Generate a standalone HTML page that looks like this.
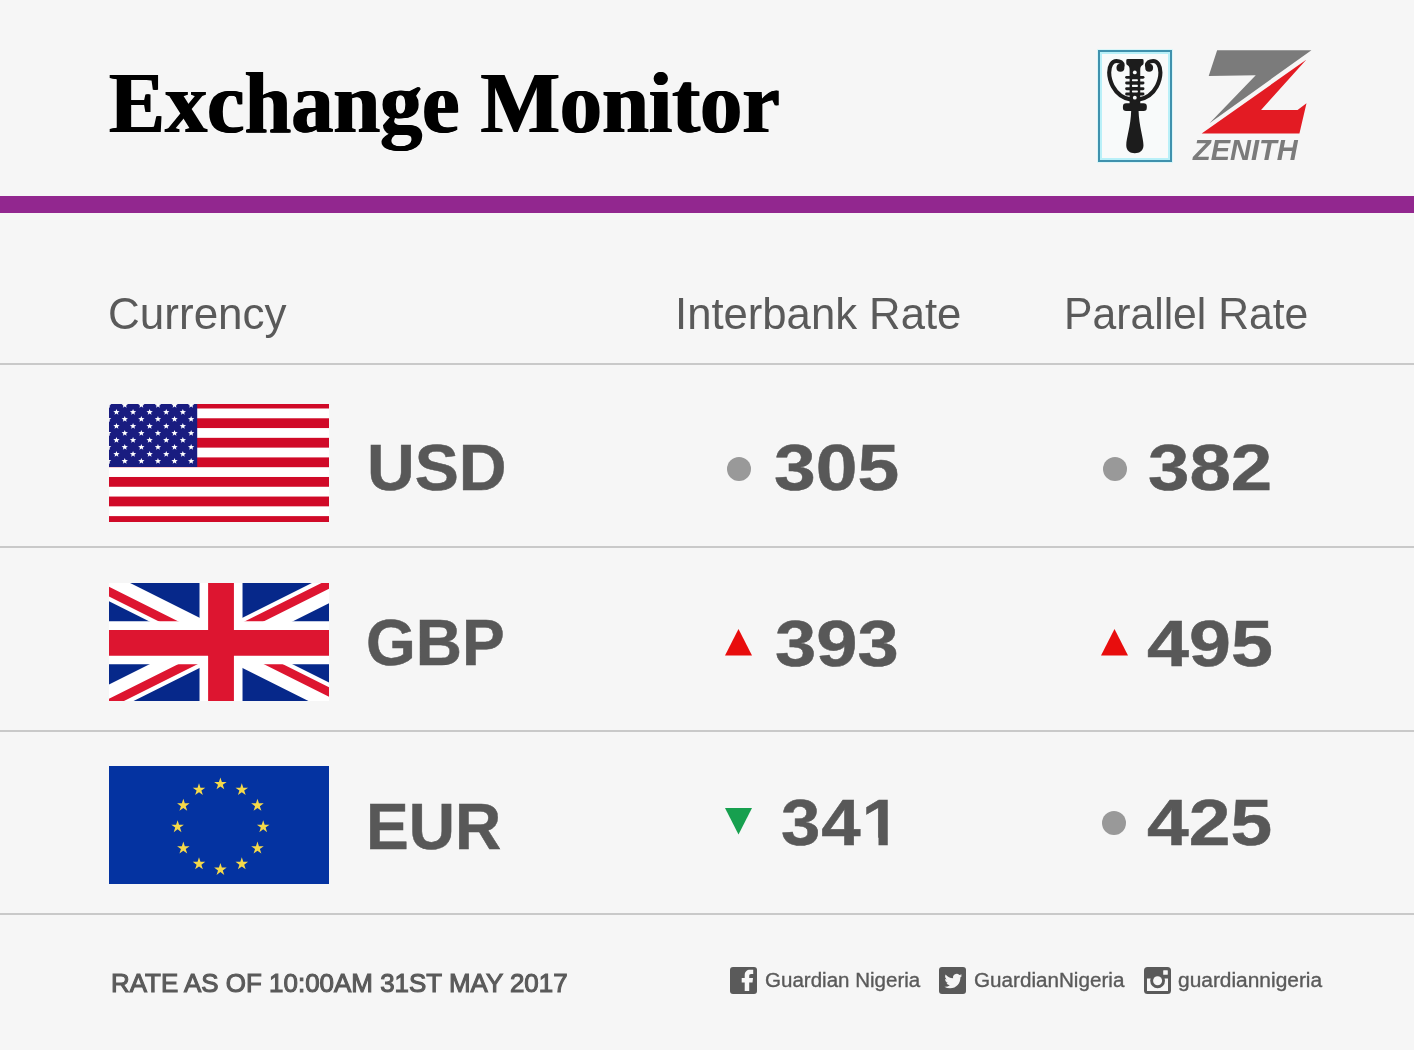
<!DOCTYPE html>
<html lang="en">
<head>
<meta charset="utf-8">
<title>Exchange Monitor</title>
<style>
html,body{margin:0;padding:0;}
body{width:1414px;height:1050px;background:#f6f6f6;position:relative;overflow:hidden;font-family:"Liberation Sans",sans-serif;color:#585858;}
.abs{position:absolute;white-space:nowrap;line-height:1;}
.title{left:109px;top:59px;font-family:"Liberation Serif",serif;font-weight:bold;font-size:87.5px;color:#000;transform-origin:0 0;transform:scaleX(0.9614);letter-spacing:0;text-shadow:0.9px 0 0 #000,-0.9px 0 0 #000;}
.bar{position:absolute;left:0;top:196px;width:1414px;height:17px;background:#92278f;}
.line{position:absolute;left:0;width:1414px;height:2px;background:#c9c9c9;}
.hdr{font-size:44px;color:#5a5a5a;transform-origin:0 0;}
.cur{font-size:64px;font-weight:bold;color:#585858;-webkit-text-stroke:0.5px #585858;transform-origin:0 0;}
.num{font-size:65px;font-weight:bold;color:#585858;-webkit-text-stroke:0.5px #585858;transform-origin:0 0;}
.flag{position:absolute;display:block;overflow:hidden !important;}
.dot{position:absolute;width:24px;height:24px;border-radius:50%;background:#999;}
.foot{font-size:26.5px;font-weight:normal;-webkit-text-stroke:1.1px #5a5a5a;color:#5a5a5a;transform-origin:0 0;}
.soc{font-size:19.5px;color:#5a5a5a;-webkit-text-stroke:0.35px #5a5a5a;transform-origin:0 0;}
svg{position:absolute;overflow:visible;}
</style>
</head>
<body>
<div class="abs title" id="title">Exchange Monitor</div>

<!-- Guardian logo -->
<div style="position:absolute;left:1098px;top:50px;width:70px;height:107.5px;border:2px solid #3f91ad;background:#f8fafa;box-shadow:inset 0 0 0 2px #b9f0f8,0 0 0 1px #d9f6f9;"></div>
<svg id="comb" style="left:1090px;top:40px" width="100" height="130" viewBox="0 0 808 1050">
<g fill="#1c1c1c" stroke="none">
<path d="M293 166 Q293 154 305 154 L421 154 Q433 154 433 166 L433 188 Q433 200 422 204 C410 212 406 224 406 240 L406 520 L320 520 L320 240 C320 224 316 212 304 204 Q293 200 293 188 Z"/>
<rect x="284" y="290" width="156" height="23" rx="11.5"/>
<rect x="284" y="336" width="156" height="23" rx="11.5"/>
<rect x="284" y="382" width="156" height="23" rx="11.5"/>
<rect x="284" y="425" width="156" height="23" rx="11.5"/>
<rect x="266" y="511" width="193" height="62" rx="26"/>
<path d="M333 565 L392 565 C396 700 432 790 432 850 C432 895 400 914 362 914 C324 914 293 895 293 850 C293 790 330 700 333 565 Z"/>
<circle cx="246" cy="224" r="32"/>
<circle cx="478" cy="224" r="32"/>
</g>
<g fill="none" stroke="#1c1c1c" stroke-width="33" stroke-linecap="round">
<path d="M335 483 C270 473 215 432 185 376 C165 336 155 300 155 262 C155 205 180 169 214 169 C244 169 264 184 264 206"/>
<path d="M389 483 C454 473 509 432 539 376 C559 336 569 300 569 262 C569 205 544 169 510 169 C480 169 460 184 460 206"/>
</g>
<g fill="#f8fafa">
<circle cx="362" cy="262" r="15.5"/>
<circle cx="362" cy="466" r="15.5"/>
<rect x="339" y="316" width="48" height="17" rx="6"/>
<rect x="339" y="362" width="48" height="17" rx="6"/>
<rect x="339" y="407" width="48" height="16" rx="6"/>
</g>
</svg>

<!-- Zenith logo -->
<svg id="zen" style="left:1180px;top:40px" width="150" height="130" viewBox="0 0 1212 1050">
<polygon points="300,82 1062,82 238,672 612,284 232,290" fill="#7b7b7b"/>
<polygon points="1020,160 175,755 965,755 1022,510 950,565 655,565" fill="#e31b23"/>
</svg>
<div class="abs" id="zenith" style="left:1193.3px;top:135.2px;transform:scaleX(0.967);font-size:30px;font-weight:bold;font-style:italic;color:#7b7b7b;transform-origin:0 0;">ZENITH</div>

<div class="bar"></div>

<div class="abs hdr" id="h1" style="left:108.1px;top:292px;">Currency</div>
<div class="abs hdr" id="h2" style="left:674.6px;top:292px;transform:scaleX(0.992);">Interbank Rate</div>
<div class="abs hdr" id="h3" style="left:1063.9px;top:292px;transform:scaleX(0.97);">Parallel Rate</div>

<div class="line" style="top:363px"></div>
<div class="line" style="top:546px"></div>
<div class="line" style="top:730px"></div>
<div class="line" style="top:913px"></div>

<!-- USD row -->
<svg class="flag" style="left:109px;top:404px" width="220" height="118" viewBox="0 0 220 118">
<rect width="220" height="118" fill="#fff"/>
<rect x="0" y="-5.30" width="220" height="9.79" fill="#d00a28"/>
<rect x="0" y="14.27" width="220" height="9.79" fill="#d00a28"/>
<rect x="0" y="33.84" width="220" height="9.79" fill="#d00a28"/>
<rect x="0" y="53.41" width="220" height="9.79" fill="#d00a28"/>
<rect x="0" y="72.98" width="220" height="9.79" fill="#d00a28"/>
<rect x="0" y="92.55" width="220" height="9.79" fill="#d00a28"/>
<rect x="0" y="112.12" width="220" height="9.79" fill="#d00a28"/>
<rect x="0" y="0" width="88.2" height="63.00" fill="#191c80"/>
<polygon points="-0.85,-2.10 -0.04,0.08 2.29,0.18 0.47,1.63 1.09,3.87 -0.85,2.59 -2.79,3.87 -2.17,1.63 -3.99,0.18 -1.66,0.08" fill="#fff"/>
<polygon points="15.75,-2.10 16.56,0.08 18.89,0.18 17.07,1.63 17.69,3.87 15.75,2.59 13.81,3.87 14.43,1.63 12.61,0.18 14.94,0.08" fill="#fff"/>
<polygon points="32.35,-2.10 33.16,0.08 35.49,0.18 33.67,1.63 34.29,3.87 32.35,2.59 30.41,3.87 31.03,1.63 29.21,0.18 31.54,0.08" fill="#fff"/>
<polygon points="48.95,-2.10 49.76,0.08 52.09,0.18 50.27,1.63 50.89,3.87 48.95,2.59 47.01,3.87 47.63,1.63 45.81,0.18 48.14,0.08" fill="#fff"/>
<polygon points="65.55,-2.10 66.36,0.08 68.69,0.18 66.87,1.63 67.49,3.87 65.55,2.59 63.61,3.87 64.23,1.63 62.41,0.18 64.74,0.08" fill="#fff"/>
<polygon points="82.15,-2.10 82.96,0.08 85.29,0.18 83.47,1.63 84.09,3.87 82.15,2.59 80.21,3.87 80.83,1.63 79.01,0.18 81.34,0.08" fill="#fff"/>
<polygon points="7.45,4.90 8.26,7.08 10.59,7.18 8.77,8.63 9.39,10.87 7.45,9.59 5.51,10.87 6.13,8.63 4.31,7.18 6.64,7.08" fill="#fff"/>
<polygon points="24.05,4.90 24.86,7.08 27.19,7.18 25.37,8.63 25.99,10.87 24.05,9.59 22.11,10.87 22.73,8.63 20.91,7.18 23.24,7.08" fill="#fff"/>
<polygon points="40.65,4.90 41.46,7.08 43.79,7.18 41.97,8.63 42.59,10.87 40.65,9.59 38.71,10.87 39.33,8.63 37.51,7.18 39.84,7.08" fill="#fff"/>
<polygon points="57.25,4.90 58.06,7.08 60.39,7.18 58.57,8.63 59.19,10.87 57.25,9.59 55.31,10.87 55.93,8.63 54.11,7.18 56.44,7.08" fill="#fff"/>
<polygon points="73.85,4.90 74.66,7.08 76.99,7.18 75.17,8.63 75.79,10.87 73.85,9.59 71.91,10.87 72.53,8.63 70.71,7.18 73.04,7.08" fill="#fff"/>
<polygon points="-0.85,11.90 -0.04,14.08 2.29,14.18 0.47,15.63 1.09,17.87 -0.85,16.59 -2.79,17.87 -2.17,15.63 -3.99,14.18 -1.66,14.08" fill="#fff"/>
<polygon points="15.75,11.90 16.56,14.08 18.89,14.18 17.07,15.63 17.69,17.87 15.75,16.59 13.81,17.87 14.43,15.63 12.61,14.18 14.94,14.08" fill="#fff"/>
<polygon points="32.35,11.90 33.16,14.08 35.49,14.18 33.67,15.63 34.29,17.87 32.35,16.59 30.41,17.87 31.03,15.63 29.21,14.18 31.54,14.08" fill="#fff"/>
<polygon points="48.95,11.90 49.76,14.08 52.09,14.18 50.27,15.63 50.89,17.87 48.95,16.59 47.01,17.87 47.63,15.63 45.81,14.18 48.14,14.08" fill="#fff"/>
<polygon points="65.55,11.90 66.36,14.08 68.69,14.18 66.87,15.63 67.49,17.87 65.55,16.59 63.61,17.87 64.23,15.63 62.41,14.18 64.74,14.08" fill="#fff"/>
<polygon points="82.15,11.90 82.96,14.08 85.29,14.18 83.47,15.63 84.09,17.87 82.15,16.59 80.21,17.87 80.83,15.63 79.01,14.18 81.34,14.08" fill="#fff"/>
<polygon points="7.45,18.90 8.26,21.08 10.59,21.18 8.77,22.63 9.39,24.87 7.45,23.59 5.51,24.87 6.13,22.63 4.31,21.18 6.64,21.08" fill="#fff"/>
<polygon points="24.05,18.90 24.86,21.08 27.19,21.18 25.37,22.63 25.99,24.87 24.05,23.59 22.11,24.87 22.73,22.63 20.91,21.18 23.24,21.08" fill="#fff"/>
<polygon points="40.65,18.90 41.46,21.08 43.79,21.18 41.97,22.63 42.59,24.87 40.65,23.59 38.71,24.87 39.33,22.63 37.51,21.18 39.84,21.08" fill="#fff"/>
<polygon points="57.25,18.90 58.06,21.08 60.39,21.18 58.57,22.63 59.19,24.87 57.25,23.59 55.31,24.87 55.93,22.63 54.11,21.18 56.44,21.08" fill="#fff"/>
<polygon points="73.85,18.90 74.66,21.08 76.99,21.18 75.17,22.63 75.79,24.87 73.85,23.59 71.91,24.87 72.53,22.63 70.71,21.18 73.04,21.08" fill="#fff"/>
<polygon points="-0.85,25.90 -0.04,28.08 2.29,28.18 0.47,29.63 1.09,31.87 -0.85,30.59 -2.79,31.87 -2.17,29.63 -3.99,28.18 -1.66,28.08" fill="#fff"/>
<polygon points="15.75,25.90 16.56,28.08 18.89,28.18 17.07,29.63 17.69,31.87 15.75,30.59 13.81,31.87 14.43,29.63 12.61,28.18 14.94,28.08" fill="#fff"/>
<polygon points="32.35,25.90 33.16,28.08 35.49,28.18 33.67,29.63 34.29,31.87 32.35,30.59 30.41,31.87 31.03,29.63 29.21,28.18 31.54,28.08" fill="#fff"/>
<polygon points="48.95,25.90 49.76,28.08 52.09,28.18 50.27,29.63 50.89,31.87 48.95,30.59 47.01,31.87 47.63,29.63 45.81,28.18 48.14,28.08" fill="#fff"/>
<polygon points="65.55,25.90 66.36,28.08 68.69,28.18 66.87,29.63 67.49,31.87 65.55,30.59 63.61,31.87 64.23,29.63 62.41,28.18 64.74,28.08" fill="#fff"/>
<polygon points="82.15,25.90 82.96,28.08 85.29,28.18 83.47,29.63 84.09,31.87 82.15,30.59 80.21,31.87 80.83,29.63 79.01,28.18 81.34,28.08" fill="#fff"/>
<polygon points="7.45,32.90 8.26,35.08 10.59,35.18 8.77,36.63 9.39,38.87 7.45,37.59 5.51,38.87 6.13,36.63 4.31,35.18 6.64,35.08" fill="#fff"/>
<polygon points="24.05,32.90 24.86,35.08 27.19,35.18 25.37,36.63 25.99,38.87 24.05,37.59 22.11,38.87 22.73,36.63 20.91,35.18 23.24,35.08" fill="#fff"/>
<polygon points="40.65,32.90 41.46,35.08 43.79,35.18 41.97,36.63 42.59,38.87 40.65,37.59 38.71,38.87 39.33,36.63 37.51,35.18 39.84,35.08" fill="#fff"/>
<polygon points="57.25,32.90 58.06,35.08 60.39,35.18 58.57,36.63 59.19,38.87 57.25,37.59 55.31,38.87 55.93,36.63 54.11,35.18 56.44,35.08" fill="#fff"/>
<polygon points="73.85,32.90 74.66,35.08 76.99,35.18 75.17,36.63 75.79,38.87 73.85,37.59 71.91,38.87 72.53,36.63 70.71,35.18 73.04,35.08" fill="#fff"/>
<polygon points="-0.85,39.90 -0.04,42.08 2.29,42.18 0.47,43.63 1.09,45.87 -0.85,44.59 -2.79,45.87 -2.17,43.63 -3.99,42.18 -1.66,42.08" fill="#fff"/>
<polygon points="15.75,39.90 16.56,42.08 18.89,42.18 17.07,43.63 17.69,45.87 15.75,44.59 13.81,45.87 14.43,43.63 12.61,42.18 14.94,42.08" fill="#fff"/>
<polygon points="32.35,39.90 33.16,42.08 35.49,42.18 33.67,43.63 34.29,45.87 32.35,44.59 30.41,45.87 31.03,43.63 29.21,42.18 31.54,42.08" fill="#fff"/>
<polygon points="48.95,39.90 49.76,42.08 52.09,42.18 50.27,43.63 50.89,45.87 48.95,44.59 47.01,45.87 47.63,43.63 45.81,42.18 48.14,42.08" fill="#fff"/>
<polygon points="65.55,39.90 66.36,42.08 68.69,42.18 66.87,43.63 67.49,45.87 65.55,44.59 63.61,45.87 64.23,43.63 62.41,42.18 64.74,42.08" fill="#fff"/>
<polygon points="82.15,39.90 82.96,42.08 85.29,42.18 83.47,43.63 84.09,45.87 82.15,44.59 80.21,45.87 80.83,43.63 79.01,42.18 81.34,42.08" fill="#fff"/>
<polygon points="7.45,46.90 8.26,49.08 10.59,49.18 8.77,50.63 9.39,52.87 7.45,51.59 5.51,52.87 6.13,50.63 4.31,49.18 6.64,49.08" fill="#fff"/>
<polygon points="24.05,46.90 24.86,49.08 27.19,49.18 25.37,50.63 25.99,52.87 24.05,51.59 22.11,52.87 22.73,50.63 20.91,49.18 23.24,49.08" fill="#fff"/>
<polygon points="40.65,46.90 41.46,49.08 43.79,49.18 41.97,50.63 42.59,52.87 40.65,51.59 38.71,52.87 39.33,50.63 37.51,49.18 39.84,49.08" fill="#fff"/>
<polygon points="57.25,46.90 58.06,49.08 60.39,49.18 58.57,50.63 59.19,52.87 57.25,51.59 55.31,52.87 55.93,50.63 54.11,49.18 56.44,49.08" fill="#fff"/>
<polygon points="73.85,46.90 74.66,49.08 76.99,49.18 75.17,50.63 75.79,52.87 73.85,51.59 71.91,52.87 72.53,50.63 70.71,49.18 73.04,49.08" fill="#fff"/>
<polygon points="-0.85,53.90 -0.04,56.08 2.29,56.18 0.47,57.63 1.09,59.87 -0.85,58.59 -2.79,59.87 -2.17,57.63 -3.99,56.18 -1.66,56.08" fill="#fff"/>
<polygon points="15.75,53.90 16.56,56.08 18.89,56.18 17.07,57.63 17.69,59.87 15.75,58.59 13.81,59.87 14.43,57.63 12.61,56.18 14.94,56.08" fill="#fff"/>
<polygon points="32.35,53.90 33.16,56.08 35.49,56.18 33.67,57.63 34.29,59.87 32.35,58.59 30.41,59.87 31.03,57.63 29.21,56.18 31.54,56.08" fill="#fff"/>
<polygon points="48.95,53.90 49.76,56.08 52.09,56.18 50.27,57.63 50.89,59.87 48.95,58.59 47.01,59.87 47.63,57.63 45.81,56.18 48.14,56.08" fill="#fff"/>
<polygon points="65.55,53.90 66.36,56.08 68.69,56.18 66.87,57.63 67.49,59.87 65.55,58.59 63.61,59.87 64.23,57.63 62.41,56.18 64.74,56.08" fill="#fff"/>
<polygon points="82.15,53.90 82.96,56.08 85.29,56.18 83.47,57.63 84.09,59.87 82.15,58.59 80.21,59.87 80.83,57.63 79.01,56.18 81.34,56.08" fill="#fff"/>
</svg>
<div class="abs cur" id="c1" style="left:367px;top:436px;transform:scaleX(1.033);">USD</div>
<div class="dot" style="left:727px;top:457px"></div>
<div class="abs num" id="n1" style="left:773.9px;top:434.85px;transform:scaleX(1.1545);">305</div>
<div class="dot" style="left:1103px;top:457px"></div>
<div class="abs num" id="n2" style="left:1148.2px;top:434.85px;transform:scaleX(1.1454);">382</div>

<!-- GBP row -->
<svg class="flag" style="left:109px;top:583px" width="220" height="118" viewBox="3.95 1.08 51.16 27.44" preserveAspectRatio="none">
<clipPath id="ukt"><path d="M30,15 h30 v15 z v15 h-30 z h-30 v-15 z v-15 h30 z"/></clipPath>
<path d="M0,0 v30 h60 v-30 z" fill="#06288a"/>
<path d="M0,0 L60,30 M60,0 L0,30" stroke="#fff" stroke-width="6"/>
<path d="M0,0 L60,30 M60,0 L0,30" clip-path="url(#ukt)" stroke="#dd1530" stroke-width="4"/>
<path d="M30,0 v30 M0,15 h60" stroke="#fff" stroke-width="10"/>
<path d="M30,0 v30 M0,15 h60" stroke="#dd1530" stroke-width="6"/>
</svg>
<div class="abs cur" id="c2" style="left:366px;top:611px;">GBP</div>
<svg style="left:725px;top:629px" width="27" height="27" viewBox="0 0 27 27"><polygon points="13.5,0 27,26.5 0,26.5" fill="#e80d0d"/></svg>
<div class="abs num" id="n3" style="left:775.1px;top:610.85px;transform:scaleX(1.1403);">393</div>
<svg style="left:1101px;top:629px" width="27" height="27" viewBox="0 0 27 27"><polygon points="13.5,0 27,26.5 0,26.5" fill="#e80d0d"/></svg>
<div class="abs num" id="n4" style="left:1147px;top:610.85px;transform:scaleX(1.1611);">495</div>

<!-- EUR row -->
<svg class="flag" style="left:109px;top:766px" width="220" height="118" viewBox="0 0 220 118">
<rect width="220" height="118" fill="#0433a1"/>
<polygon points="111.40,11.40 112.88,15.96 117.68,15.96 113.80,18.78 115.28,23.34 111.40,20.52 107.52,23.34 109.00,18.78 105.12,15.96 109.92,15.96" fill="#f5d94a"/>
<polygon points="132.80,17.13 134.28,21.69 139.08,21.69 135.20,24.51 136.68,29.07 132.80,26.26 128.92,29.07 130.40,24.51 126.52,21.69 131.32,21.69" fill="#f5d94a"/>
<polygon points="148.47,32.80 149.95,37.36 154.74,37.36 150.86,40.18 152.35,44.74 148.47,41.92 144.59,44.74 146.07,40.18 142.19,37.36 146.98,37.36" fill="#f5d94a"/>
<polygon points="154.20,54.20 155.68,58.76 160.48,58.76 156.60,61.58 158.08,66.14 154.20,63.32 150.32,66.14 151.80,61.58 147.92,58.76 152.72,58.76" fill="#f5d94a"/>
<polygon points="148.47,75.60 149.95,80.16 154.74,80.16 150.86,82.98 152.35,87.54 148.47,84.72 144.59,87.54 146.07,82.98 142.19,80.16 146.98,80.16" fill="#f5d94a"/>
<polygon points="132.80,91.27 134.28,95.83 139.08,95.83 135.20,98.64 136.68,103.21 132.80,100.39 128.92,103.21 130.40,98.64 126.52,95.83 131.32,95.83" fill="#f5d94a"/>
<polygon points="111.40,97.00 112.88,101.56 117.68,101.56 113.80,104.38 115.28,108.94 111.40,106.12 107.52,108.94 109.00,104.38 105.12,101.56 109.92,101.56" fill="#f5d94a"/>
<polygon points="90.00,91.27 91.48,95.83 96.28,95.83 92.40,98.64 93.88,103.21 90.00,100.39 86.12,103.21 87.60,98.64 83.72,95.83 88.52,95.83" fill="#f5d94a"/>
<polygon points="74.33,75.60 75.82,80.16 80.61,80.16 76.73,82.98 78.21,87.54 74.33,84.72 70.45,87.54 71.94,82.98 68.06,80.16 72.85,80.16" fill="#f5d94a"/>
<polygon points="68.60,54.20 70.08,58.76 74.88,58.76 71.00,61.58 72.48,66.14 68.60,63.32 64.72,66.14 66.20,61.58 62.32,58.76 67.12,58.76" fill="#f5d94a"/>
<polygon points="74.33,32.80 75.82,37.36 80.61,37.36 76.73,40.18 78.21,44.74 74.33,41.92 70.45,44.74 71.94,40.18 68.06,37.36 72.85,37.36" fill="#f5d94a"/>
<polygon points="90.00,17.13 91.48,21.69 96.28,21.69 92.40,24.51 93.88,29.07 90.00,26.26 86.12,29.07 87.60,24.51 83.72,21.69 88.52,21.69" fill="#f5d94a"/>
</svg>
<div class="abs cur" id="c3" style="left:366px;top:795px;">EUR</div>
<svg style="left:725px;top:808px" width="27" height="27" viewBox="0 0 27 27"><polygon points="0,0 27,0 13.5,26.5" fill="#17a04f"/></svg>
<div class="abs num" id="n5" style="left:781.43px;top:789.85px;transform:scaleX(1.0882);letter-spacing:0.95px;clip-path:polygon(0 0,98.1px 0,98.1px 66px,89.6px 66px,89.6px 48px,75.5px 48px,75.5px 66px,0 66px);">341</div>
<div class="dot" style="left:1102px;top:811px"></div>
<div class="abs num" id="n6" style="left:1147px;top:789.85px;transform:scaleX(1.1535);">425</div>

<!-- Footer -->
<div class="abs foot" id="f1" style="left:111px;top:969.7px;transform:scaleX(0.979);">RATE AS OF 10:00AM 31ST MAY 2017</div>

<svg style="left:730px;top:967px" width="27" height="27" viewBox="0 0 27 27"><rect width="27" height="27" rx="3" fill="#5a5a5a"/><path d="M14.7 24 V15.4 H11.7 V10.9 H14.7 V8.2 C14.7 4.6 16.9 2.7 20.1 2.7 C21.5 2.7 22.7 2.8 23.2 2.85 V7 H21.2 C19.6 7 19.2 7.8 19.2 8.9 V10.9 H23 L22.5 15.4 H19.2 V24 Z" fill="#f6f6f6"/></svg>
<div class="abs soc" id="s1" style="left:764.7px;top:971px;transform:scaleX(1.053);">Guardian Nigeria</div>

<svg style="left:939px;top:967px" width="27" height="27" viewBox="0 0 27 27"><rect width="27" height="27" rx="3" fill="#5a5a5a"/><g transform="translate(5.4,5.2) scale(0.74)"><path fill="#f6f6f6" d="M23.953 4.57a10 10 0 01-2.825.775 4.958 4.958 0 002.163-2.723c-.951.555-2.005.959-3.127 1.184a4.92 4.92 0 00-8.384 4.482C7.69 8.095 4.067 6.13 1.64 3.162a4.822 4.822 0 00-.666 2.475c0 1.71.87 3.213 2.188 4.096a4.904 4.904 0 01-2.228-.616v.06a4.923 4.923 0 003.946 4.827 4.996 4.996 0 01-2.212.085 4.936 4.936 0 004.604 3.417 9.867 9.867 0 01-6.102 2.105c-.39 0-.779-.023-1.17-.067a13.995 13.995 0 007.557 2.209c9.053 0 13.998-7.496 13.998-13.985 0-.21 0-.42-.015-.63A9.935 9.935 0 0024 4.59z"/></g></svg>
<div class="abs soc" id="s2" style="left:974px;top:971px;transform:scaleX(1.059);">GuardianNigeria</div>

<svg style="left:1143.5px;top:967px" width="27" height="27" viewBox="0 0 27 27"><rect width="27" height="27" rx="3.5" fill="#5a5a5a"/><rect x="3" y="11.5" width="21" height="12.5" fill="#f6f6f6"/><circle cx="13.6" cy="13.8" r="7.4" fill="#5a5a5a"/><circle cx="13.6" cy="13.8" r="4.5" fill="#f6f6f6"/><rect x="19.2" y="3.2" width="4.6" height="4.6" rx="0.6" fill="#f6f6f6"/></svg>
<div class="abs soc" id="s3" style="left:1177.8px;top:971px;transform:scaleX(1.072);">guardiannigeria</div>

</body>
</html>
